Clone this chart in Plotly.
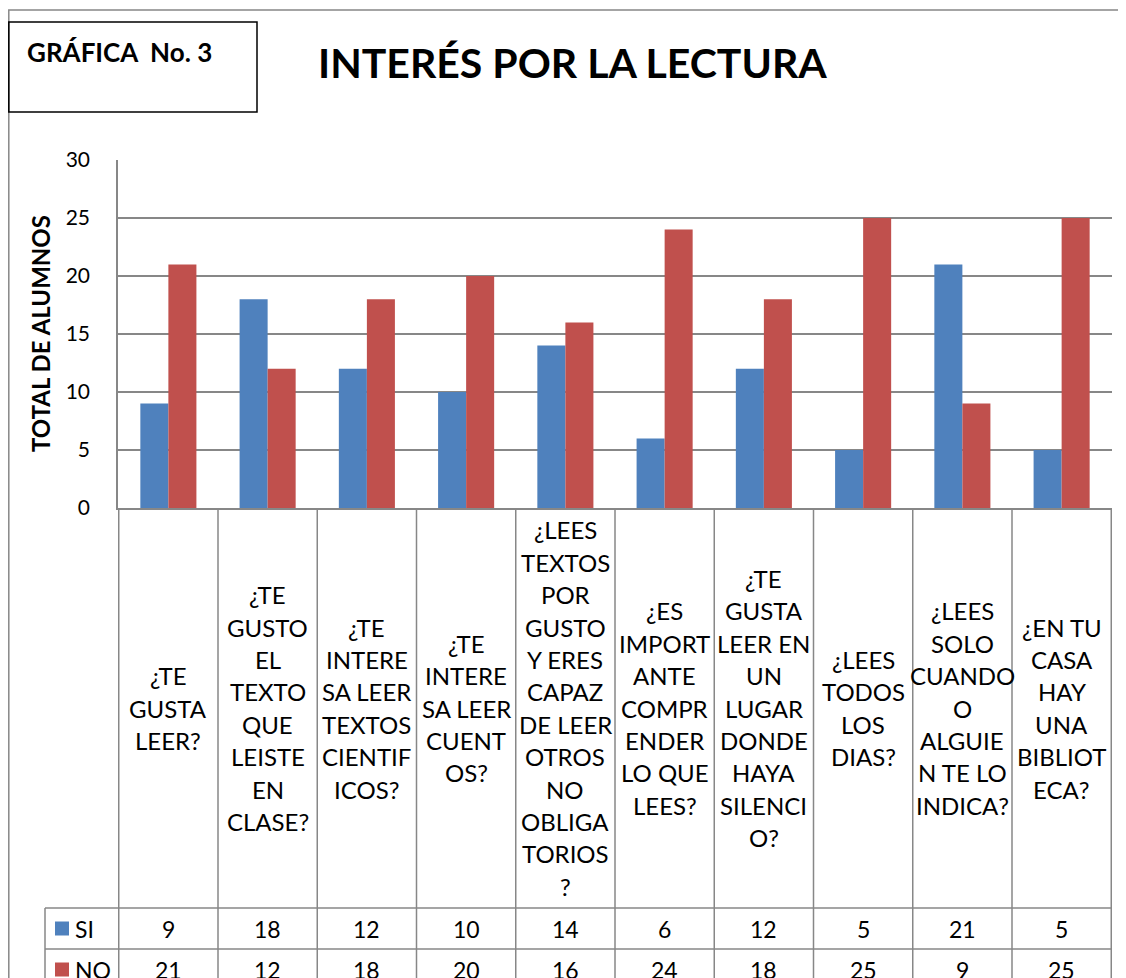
import plotly.graph_objects as go

# ---------------- data ----------------
label_lines = [
    ["¿TE", "GUSTA", "LEER?"],
    ["¿TE", "GUSTO", "EL", "TEXTO", "QUE", "LEISTE", "EN", "CLASE?"],
    ["¿TE", "INTERE", "SA LEER", "TEXTOS", "CIENTIF", "ICOS?"],
    ["¿TE", "INTERE", "SA LEER", "CUENT", "OS?"],
    ["¿LEES", "TEXTOS", "POR", "GUSTO", "Y ERES", "CAPAZ", "DE LEER", "OTROS", "NO", "OBLIGA", "TORIOS", "?"],
    ["¿ES", "IMPORT", "ANTE", "COMPR", "ENDER", "LO QUE", "LEES?"],
    ["¿TE", "GUSTA", "LEER EN", "UN", "LUGAR", "DONDE", "HAYA", "SILENCI", "O?"],
    ["¿LEES", "TODOS", "LOS", "DIAS?"],
    ["¿LEES", "SOLO", "CUANDO", "O", "ALGUIE", "N TE LO", "INDICA?"],
    ["¿EN TU", "CASA", "HAY", "UNA", "BIBLIOT", "ECA?"],
]
categories = [
    "¿TE GUSTA LEER?",
    "¿TE GUSTO EL TEXTO QUE LEISTE EN CLASE?",
    "¿TE INTERESA LEER TEXTOS CIENTIFICOS?",
    "¿TE INTERESA LEER CUENTOS?",
    "¿LEES TEXTOS POR GUSTO Y ERES CAPAZ DE LEER OTROS NO OBLIGATORIOS?",
    "¿ES IMPORTANTE COMPRENDER LO QUE LEES?",
    "¿TE GUSTA LEER EN UN LUGAR DONDE HAYA SILENCIO?",
    "¿LEES TODOS LOS DIAS?",
    "¿LEES SOLO CUANDO ALGUIEN TE LO INDICA?",
    "¿EN TU CASA HAY UNA BIBLIOTECA?",
]
si = [9, 18, 12, 10, 14, 6, 12, 5, 21, 5]
no = [21, 12, 18, 20, 16, 24, 18, 25, 9, 25]
series_names = ["SI", "NO"]
y_ticks = [0, 5, 10, 15, 20, 25, 30]

title = "INTERÉS POR LA LECTURA"
subtitle = "GRÁFICA  No. 3"
y_title = "TOTAL DE ALUMNOS"

# ---------------- style ----------------
W, H = 1126, 978
OFF = 8  # page offset of the figure (body margin)
BLUE = "#4F81BD"
RED = "#C0504D"
GRID = "#878787"
FONT = "Lato"

def px(x):
    return (x - OFF) / W

def py(y):
    return 1 - (y - OFF) / H

PLOT_L, PLOT_R, PLOT_T, PLOT_B = 118, 1112, 160, 508
ROW_SI, ROW_NO, ROW_END = 908, 949, 995
LEG_L = 45
LABEL_CENTER, LINE_H = 708, 32.4

fig = go.Figure()
fig.add_trace(go.Bar(x=categories, y=si, name=series_names[0], marker=dict(color=BLUE, line=dict(width=0))))
fig.add_trace(go.Bar(x=categories, y=no, name=series_names[1], marker=dict(color=RED, line=dict(width=0))))

shapes = []
annotations = []

# outer chart border
shapes.append(dict(type="rect", xref="paper", yref="paper", x0=px(8.8), x1=px(1150), y0=py(1010), y1=py(10),
                   line=dict(color=GRID, width=1.5), layer="below"))
# subtitle box
shapes.append(dict(type="rect", xref="paper", yref="paper", x0=px(8.8), x1=px(257), y0=py(112), y1=py(22),
                   line=dict(color="black", width=1.5)))

# table vertical lines (category boundaries)
for i in range(len(categories) + 1):
    shapes.append(dict(type="line", xref="x", yref="paper", x0=i - 0.5, x1=i - 0.5,
                       y0=py(PLOT_B), y1=py(ROW_END), line=dict(color=GRID, width=1.5)))
# table horizontal lines
for yy in (ROW_SI, ROW_NO):
    shapes.append(dict(type="line", xref="paper", yref="paper", x0=px(LEG_L), x1=px(PLOT_R),
                       y0=py(yy), y1=py(yy), line=dict(color=GRID, width=1.5)))
shapes.append(dict(type="line", xref="paper", yref="paper", x0=px(LEG_L), x1=px(LEG_L),
                   y0=py(ROW_SI), y1=py(ROW_END), line=dict(color=GRID, width=1.5)))

# category labels
for cat, lines in zip(categories, label_lines):
    n = len(lines)
    for k, ln in enumerate(lines):
        yy = LABEL_CENTER + (k - (n - 1) / 2) * LINE_H
        annotations.append(dict(x=cat, xref="x", y=py(yy), yref="paper", text=ln, showarrow=False,
                                xanchor="center", yanchor="middle",
                                font=dict(family=FONT, size=24, color="black")))

# table values + legend keys
for row_top, name, vals, col in ((ROW_SI, series_names[0], si, BLUE), (ROW_NO, series_names[1], no, RED)):
    cy = row_top + 20.5
    for cat, v in zip(categories, vals):
        annotations.append(dict(x=cat, xref="x", y=py(cy), yref="paper", text=str(v), showarrow=False,
                                xanchor="center", yanchor="middle",
                                font=dict(family=FONT, size=23, color="black")))
    shapes.append(dict(type="rect", xref="paper", yref="paper", x0=px(55), x1=px(69),
                       y0=py(cy + 7), y1=py(cy - 7), fillcolor=col, line=dict(width=0)))
    annotations.append(dict(x=px(73), xref="paper", y=py(cy), yref="paper", text=name, showarrow=False,
                            xanchor="left", yanchor="middle",
                            font=dict(family=FONT, size=23, color="black")))

# titles
annotations.append(dict(x=px(572), xref="paper", y=py(62), yref="paper", text="<b>" + title + "</b>",
                        showarrow=False, xanchor="center", yanchor="middle",
                        font=dict(family=FONT, size=41, color="black")))
annotations.append(dict(x=px(119), xref="paper", y=py(52), yref="paper", text="<b>" + subtitle + "</b>",
                        showarrow=False, xanchor="center", yanchor="middle",
                        font=dict(family=FONT, size=26, color="black")))
annotations.append(dict(x=px(41), xref="paper", y=py(334), yref="paper", text="<b>" + y_title + "</b>",
                        showarrow=False, xanchor="center", yanchor="middle", textangle=-90,
                        font=dict(family=FONT, size=24, color="black")))

fig.update_layout(
    width=W, height=H,
    margin=dict(l=0, r=0, t=0, b=0, pad=0, autoexpand=False),
    paper_bgcolor="white", plot_bgcolor="white",
    barmode="group", bargap=0.435, bargroupgap=0,
    showlegend=False,
    shapes=shapes, annotations=annotations,
    xaxis=dict(domain=[px(PLOT_L), px(PLOT_R)], showticklabels=False, showgrid=False,
               showline=True, linecolor=GRID, linewidth=1.5, ticks="", zeroline=False,
               automargin=False),
    yaxis=dict(domain=[py(PLOT_B), py(PLOT_T)], range=[0, 30], tickvals=y_ticks,
               showgrid=True, gridcolor=GRID, gridwidth=1.5, zeroline=False,
               showline=True, linecolor=GRID, linewidth=1.5, ticks="",
               ticklabelstandoff=22, automargin=False,
               tickfont=dict(family=FONT, size=21, color="black")),
)

fig.write_html("out.html")
